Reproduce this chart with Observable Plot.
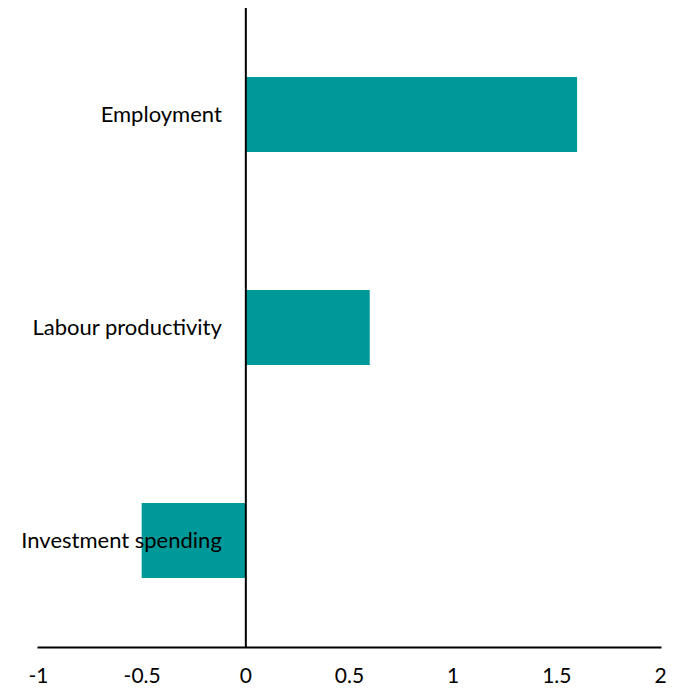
<!DOCTYPE html>
<html>
<head>
<meta charset="utf-8">
<script src="https://cdn.jsdelivr.net/npm/d3@7"></script>
<script src="https://cdn.jsdelivr.net/npm/@observablehq/plot@0.6"></script>
<style>
body { margin: 0; background: #fff; }
</style>
</head>
<body>
<div id="chart"></div>
<script>
const categories = ["Employment", "Labour productivity", "Investment spending"];
const values = [1.6, 0.6, -0.5];
const xTicks = [-1, -0.5, 0, 0.5, 1, 1.5, 2];

const data = categories.map((c, i) => ({category: c, value: values[i]}));

const chart = Plot.plot({
  width: 681,
  height: 690,
  marginLeft: 38,
  marginRight: 21,
  marginTop: 8,
  marginBottom: 43,
  style: {fontFamily: "Lato, 'Open Sans', sans-serif", fontSize: "20px", color: "#000", background: "#fff"},
  x: {domain: [-1, 2]},
  y: {domain: categories, paddingInner: 0.648, paddingOuter: 0.324},
  marks: [
    Plot.barX(data, {x: "value", y: "category", fill: "#009999"}),
    Plot.ruleX([0], {stroke: "#000", strokeWidth: 2}),
    Plot.frame({anchor: "bottom", stroke: "#000", strokeWidth: 2}),
    Plot.text(data, {x: 0, y: "category", text: "category", textAnchor: "end", dx: -24, fontSize: 22, fill: "#000"}),
    Plot.axisX({ticks: xTicks, tickSize: 0, tickPadding: 21, fontSize: 21, tickFormat: d => String(d), label: null}),
    Plot.axisY({ticks: [], label: null})
  ]
});
document.getElementById("chart").appendChild(chart);
</script>
</body>
</html>
